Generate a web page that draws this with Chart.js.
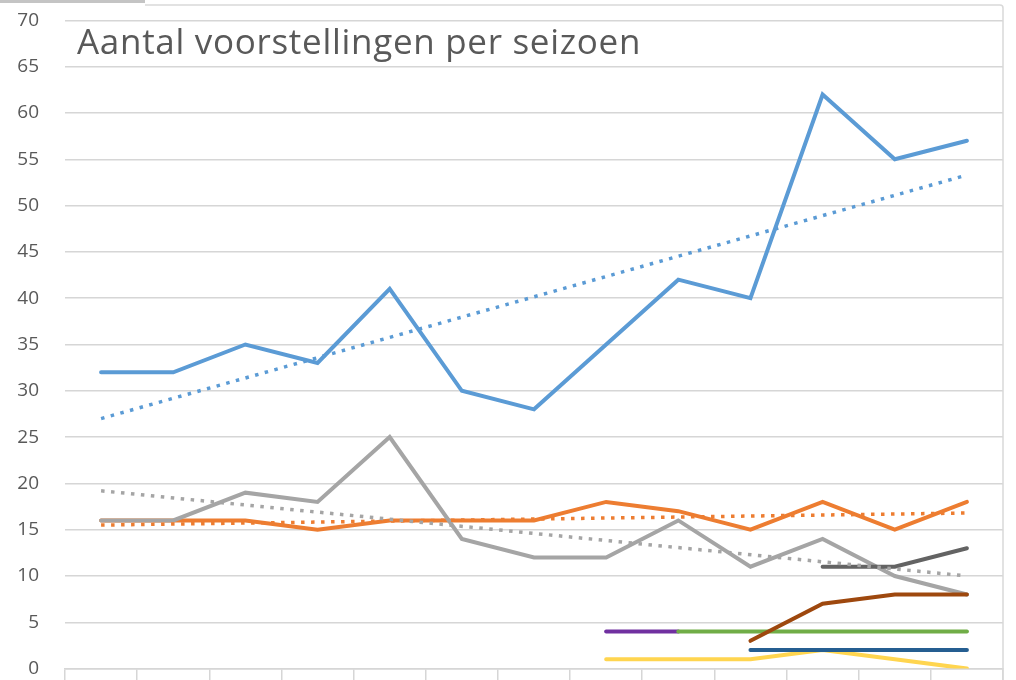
<!DOCTYPE html>
<html>
<head>
<meta charset="utf-8">
<script src="https://cdn.jsdelivr.net/npm/chart.js@4.4.1/dist/chart.umd.min.js"></script>
<style>
  html, body { margin: 0; padding: 0; background: #ffffff; overflow: hidden; }
  #wrap { width: 1016px; height: 680px; overflow: hidden; position: relative; }
  #c { position: absolute; left: 0; top: -17px; }
</style>
</head>
<body>
<div id="wrap"><canvas id="c" width="1016" height="723"></canvas></div>
<script>
// Seasons (the axis labels sit below the visible area)
const seasons = ['1', '2', '3', '4', '5', '6', '7', '8', '9', '10', '11', '12', '13'];
const yTicks = [0, 5, 10, 15, 20, 25, 30, 35, 40, 45, 50, 55, 60, 65, 70];

// Performances per season, one array per series
const seriesBlue   = [32, 32, 35, 33, 41, 30, 28, 35, 42, 40, 62, 55, 57];
const seriesOrange = [16, 16, 16, 15, 16, 16, 16, 18, 17, 15, 18, 15, 18];
const seriesGray   = [16, 16, 19, 18, 25, 14, 12, 12, 16, 11, 14, 10, 8];
const seriesYellow = [null, null, null, null, null, null, null, 1, 1, 1, 2, 1, 0];
const seriesPurple = [null, null, null, null, null, null, null, 4, 4, null, null, null, null];
const seriesGreen  = [null, null, null, null, null, null, null, null, 4, 4, 4, 4, 4];
const seriesNavy   = [null, null, null, null, null, null, null, null, null, 2, 2, 2, 2];
const seriesBrown  = [null, null, null, null, null, null, null, null, null, 3, 7, 8, 8];
const seriesDark   = [null, null, null, null, null, null, null, null, null, null, 11, 11, 13];

// Linear trend lines: start and end values
const trendBlue   = [27, null, null, null, null, null, null, null, null, null, null, null, 53.3];
const trendOrange = [15.5, null, null, null, null, null, null, null, null, null, null, null, 16.8];
const trendGray   = [19.2, null, null, null, null, null, null, null, null, null, null, null, 10];

const titleText = 'Aantal voorstellingen per seizoen';
const SHIFT = 17; // canvas is raised by this many pixels inside the frame

function solid(data, color) {
  return { data, borderColor: color, borderWidth: 4, pointRadius: 0, tension: 0,
           fill: false, spanGaps: false, borderCapStyle: 'round', borderJoinStyle: 'miter' };
}
function dotted(data, color) {
  return { data, borderColor: color, borderWidth: 3.5, pointRadius: 0, tension: 0,
           fill: false, spanGaps: true, borderDash: [3.5, 6.5], borderCapStyle: 'butt' };
}

const datasets = [
  solid(seriesBlue, '#5B9BD5'),
  solid(seriesOrange, '#ED7D31'),
  solid(seriesGray, '#A5A5A5'),
  solid(seriesYellow, '#FFD54F'),
  solid(seriesPurple, '#7030A0'),
  solid(seriesGreen, '#70AD47'),
  solid(seriesNavy, '#255E91'),
  solid(seriesBrown, '#9E480E'),
  solid(seriesDark, '#636363'),
  dotted(trendBlue, '#5B9BD5'),
  dotted(trendOrange, '#ED7D31'),
  dotted(trendGray, '#A5A5A5')
];
// later series are painted above earlier ones
datasets.forEach((d, i) => { d.order = datasets.length - i; });

const titlePlugin = {
  id: 'innerTitle',
  beforeDatasetsDraw(chart) {
    const ctx = chart.ctx;
    ctx.save();
    ctx.font = '35px "Open Sans", sans-serif';
    if ('letterSpacing' in ctx) ctx.letterSpacing = '0.7px';
    ctx.fillStyle = '#595959';
    ctx.textBaseline = 'alphabetic';
    ctx.textAlign = 'left';
    ctx.fillText(titleText, 77, chart.chartArea.top + 34);
    ctx.restore();
  }
};

const framePlugin = {
  id: 'frame',
  afterDraw(chart) {
    const ctx = chart.ctx;
    const right = chart.chartArea.right;
    ctx.save();
    ctx.fillStyle = '#c4c4c4';
    ctx.fillRect(0, SHIFT, 145, 3);
    ctx.strokeStyle = '#d9d9d9';
    ctx.lineWidth = 1.5;
    ctx.beginPath();
    ctx.moveTo(145, SHIFT + 5);
    ctx.lineTo(right - 3, SHIFT + 5);
    ctx.quadraticCurveTo(right, SHIFT + 5, right, SHIFT + 8);
    ctx.lineTo(right, chart.height);
    ctx.stroke();
    ctx.restore();
  }
};

Chart.defaults.font.family = '"Open Sans", sans-serif';

new Chart(document.getElementById('c'), {
  type: 'line',
  data: { labels: seasons, datasets },
  options: {
    responsive: false,
    animation: false,
    devicePixelRatio: 1,
    layout: { autoPadding: false, padding: { top: 20, right: 13, left: 0, bottom: 0 } },
    plugins: { legend: { display: false }, tooltip: { enabled: false }, title: { display: false } },
    scales: {
      x: {
        type: 'category',
        offset: true,
        ticks: { display: false },
        grid: { offset: true, drawOnChartArea: false, drawTicks: true, tickLength: 14,
                color: '#d6d6d6', lineWidth: 1.5 },
        border: { display: true, color: '#d6d6d6', width: 1.5 },
        afterFit(scale) { scale.height = 11; }
      },
      y: {
        min: 0,
        max: 70,
        afterBuildTicks(scale) { scale.ticks = yTicks.map(v => ({ value: v })); },
        ticks: { color: '#595959', font: { size: 19 }, padding: 26 },
        grid: { color: '#d6d6d6', lineWidth: 1.5, drawTicks: false },
        border: { display: false },
        afterFit(scale) { scale.width = 65; }
      }
    }
  },
  plugins: [titlePlugin, framePlugin]
});
</script>
</body>
</html>
